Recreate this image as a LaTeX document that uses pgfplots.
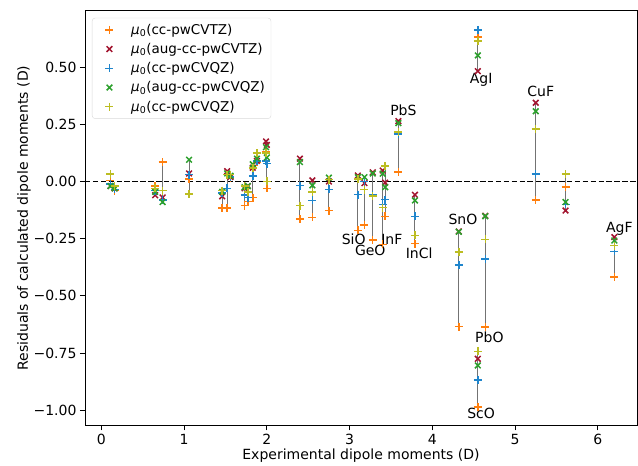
\documentclass[border=0pt]{standalone}
\usepackage{fontspec}
\setmainfont{DejaVu Sans}
\usepackage{pgfplots}
\usepackage{pgfplotstable}
\pgfplotsset{compat=1.18}
\definecolor{cTZ}{HTML}{FF7F0E}
\definecolor{cATZ}{HTML}{A2142F}
\definecolor{cQZ}{HTML}{1F85CC}
\definecolor{cAQZ}{HTML}{2CA02C}
\definecolor{cQZb}{HTML}{BCBD22}
\newcommand{\muz}{\textit{μ}\textsubscript{0}}
\pgfplotsset{myleg/.style={legend image code/.code={\node[draw=none, fill=none, inner sep=0pt, minimum width=33bp, minimum height=1bp, anchor=west] at (0bp,0bp) {};\draw[##1] plot[only marks] coordinates {(14bp,0bp)};}}}
\pgfplotstableread{
x     tz      atz     qz      aqz     qz2
0.11  0.005  -0.020  -0.010  -0.020   0.033
0.16 -0.040  -0.030  -0.035  -0.030  -0.020
0.65 -0.020  -0.060  -0.040  -0.045  -0.030
0.74  0.085  -0.070  -0.080  -0.090  -0.040
1.06  0.010   0.035   0.030   0.095  -0.055
1.46 -0.115  -0.065  -0.050  -0.045  -0.040
1.52 -0.115   0.045  -0.030   0.035   0.030
1.56  0.015   0.020   0.020   0.025   0.030
1.73 -0.105  -0.030  -0.060  -0.025  -0.020
1.77 -0.087  -0.020  -0.070  -0.020  -0.047
1.83 -0.070   0.060   0.023   0.075   0.060
1.88  0.083   0.090   0.090   0.100   0.124
1.99  0.128   0.175   0.090   0.150   0.125
2.00 -0.030   0.160   0.078   0.105   0.000
2.40 -0.165   0.100  -0.018   0.085  -0.105
2.55 -0.157   0.005  -0.083  -0.017  -0.047
2.75 -0.127   0.000  -0.035   0.017   0.008
3.10 -0.214   0.026  -0.057   0.019   0.010
3.18 -0.190  -0.007   0.000   0.019  -0.036
3.28 -0.255   0.040  -0.060   0.035  -0.064
3.40 -0.275   0.048  -0.100   0.034  -0.114
3.43 -0.153  -0.005  -0.079  -0.025   0.067
3.59  0.041   0.264   0.208   0.255   0.216
3.79 -0.272  -0.058  -0.153  -0.083  -0.236
4.32 -0.634  -0.218  -0.364  -0.220  -0.309
4.55  0.631   0.482   0.663   0.551   0.613
4.55 -0.986  -0.775  -0.867  -0.804  -0.743
4.64 -0.637  -0.150  -0.338  -0.152  -0.253
5.25 -0.080   0.344   0.032   0.307   0.229
5.61 -0.025  -0.127  -0.100  -0.090   0.032
6.20 -0.418  -0.243  -0.305  -0.258  -0.280
}\dipoles
\begin{document}
\begin{tikzpicture}
\begin{axis}[name=ax, scale only axis, width=552bp, height=414.6bp,
  xmin=-0.198, xmax=6.474, ymin=-1.066, ymax=0.746,
  xtick={0,1,2,3,4,5,6}, xticklabels={0,1,2,3,4,5,6},
  ytick={-1,-0.75,-0.5,-0.25,0,0.25,0.5},
  yticklabels={−1.00,−0.75,−0.50,−0.25,0.00,0.25,0.50},
  tick align=outside, tick pos=left, major tick length=5bp,
  tick style={black, line width=0.8pt},
  axis line style={black, line width=0.8pt},
  font=\fontsize{14bp}{17bp}\selectfont,
  xlabel={Experimental dipole moments (D)},
  ylabel={Residuals of calculated dipole moments (D)},
  xlabel style={yshift=2bp},
  ylabel style={yshift=-4bp},
  legend style={at={(0,1)}, anchor=north west, xshift=7bp, yshift=-7bp,
    draw=black!15, rounded corners=3bp, fill=white,
    font=\fontsize{13.5bp}{16.5bp}\selectfont, row sep=3.5bp,
    inner xsep=4bp, inner ysep=4bp},
  legend cell align=left,
  every axis plot/.append style={line width=1.5pt},
  mark size=4bp,
]
\addplot[forget plot, black, line width=1.4pt, dash pattern=on 5.5bp off 2.4bp] coordinates {(-0.198,0) (6.474,0)};
\addplot[draw=none, no markers, forget plot, error bars/.cd, y dir=plus, y explicit, error mark=none,
  error bar style={draw=black!55, line width=1.1pt, solid}]
  table[x=x, y expr={min(\thisrow{tz},\thisrow{atz},\thisrow{qz},\thisrow{aqz},\thisrow{qz2})},
  y error expr={max(\thisrow{tz},\thisrow{atz},\thisrow{qz},\thisrow{aqz},\thisrow{qz2})-min(\thisrow{tz},\thisrow{atz},\thisrow{qz},\thisrow{aqz},\thisrow{qz2})}] {\dipoles};
\addplot[only marks, mark=+, cTZ, forget plot] table[x=x, y=tz] {\dipoles};
\addplot[only marks, mark=x, cATZ, forget plot] table[x=x, y=atz] {\dipoles};
\addplot[only marks, mark=+, cQZ, forget plot] table[x=x, y=qz] {\dipoles};
\addplot[only marks, mark=x, cAQZ, forget plot] table[x=x, y=aqz] {\dipoles};
\addplot[only marks, mark=+, cQZb, forget plot] table[x=x, y=qz2] {\dipoles};
\addlegendimage{myleg, mark=+, cTZ, line width=1.5pt}
\addlegendentry{\muz(cc-pwCVTZ)}
\addlegendimage{myleg, mark=x, cATZ, line width=1.5pt}
\addlegendentry{\muz(aug-cc-pwCVTZ)}
\addlegendimage{myleg, mark=+, cQZ, line width=1.5pt}
\addlegendentry{\muz(cc-pwCVQZ)}
\addlegendimage{myleg, mark=x, cAQZ, line width=1.5pt}
\addlegendentry{\muz(aug-cc-pwCVQZ)}
\addlegendimage{myleg, mark=+, cQZb, line width=1.5pt}
\addlegendentry{\muz(cc-pwCVQZ)}
\node at (axis cs:3.05,-0.253) {SiO};
\node at (axis cs:3.25,-0.300) {GeO};
\node at (axis cs:3.51,-0.253) {InF};
\node at (axis cs:3.84,-0.315) {InCl};
\node at (axis cs:3.65,0.31) {PbS};
\node at (axis cs:4.59,0.446) {AgI};
\node at (axis cs:5.31,0.393) {CuF};
\node at (axis cs:4.37,-0.166) {SnO};
\node at (axis cs:4.69,-0.682) {PbO};
\node at (axis cs:4.59,-1.014) {ScO};
\node at (axis cs:6.26,-0.205) {AgF};
\end{axis}
\pgfresetboundingbox
\path[use as bounding box] ([xshift=-85bp,yshift=-40.6bp]ax.south west) rectangle ([xshift=1bp,yshift=10.8bp]ax.north east);
\end{tikzpicture}
\end{document}
